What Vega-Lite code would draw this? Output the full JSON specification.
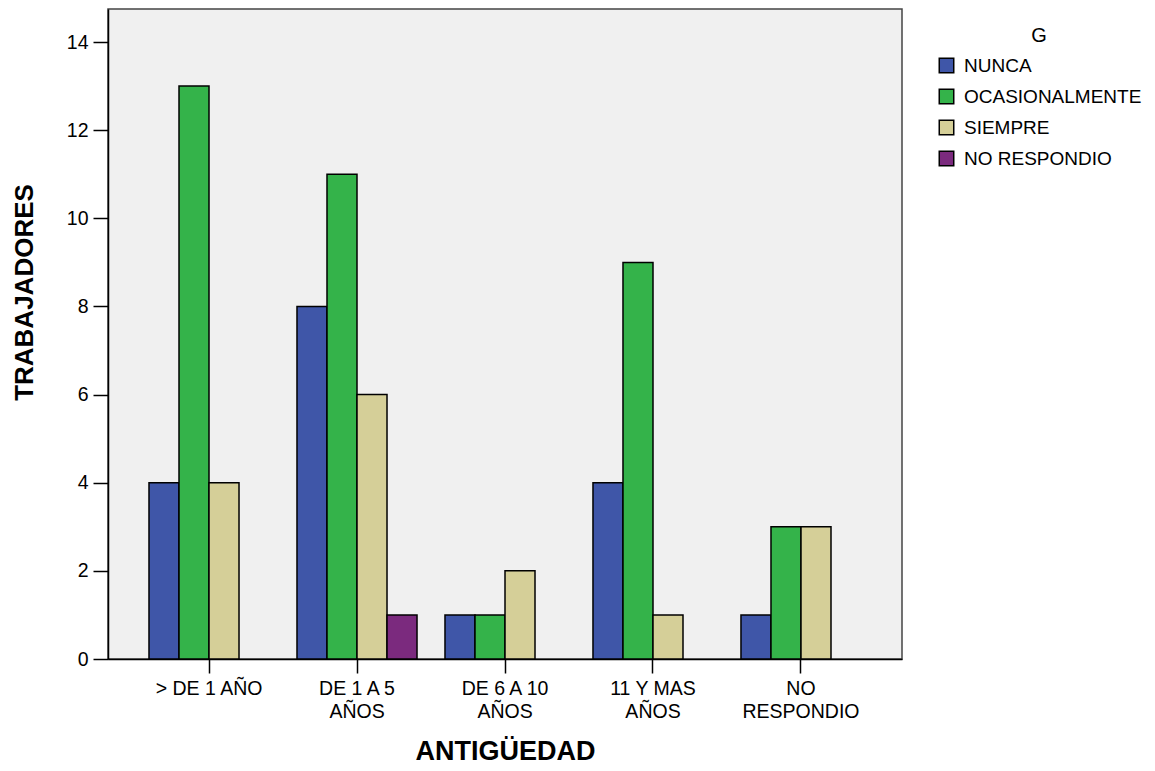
{
  "$schema": "https://vega.github.io/schema/vega-lite/v6.json",
  "width": 794,
  "height": 650,
  "autosize": "none",
  "padding": {"left": 108, "top": 9, "right": 253, "bottom": 112},
  "background": "white",
  "config": {
    "font": "Liberation Sans",
    "view": {"fill": "#F0F0F0", "stroke": "#444444", "strokeWidth": 1.5},
    "axis": {"grid": false, "labelFontSize": 19.5, "labelColor": "#000000", "tickColor": "#000000", "domainColor": "#000000", "tickWidth": 1.5, "domainWidth": 1.5, "titleFontWeight": "bold", "titleColor": "#000000"}
  },
  "data": {
    "values": [
      {"antig": "> DE 1 AÑO", "g": "NUNCA", "n": 4},
      {"antig": "> DE 1 AÑO", "g": "OCASIONALMENTE", "n": 13},
      {"antig": "> DE 1 AÑO", "g": "SIEMPRE", "n": 4},
      {"antig": "DE 1  A 5|AÑOS", "g": "NUNCA", "n": 8},
      {"antig": "DE 1  A 5|AÑOS", "g": "OCASIONALMENTE", "n": 11},
      {"antig": "DE 1  A 5|AÑOS", "g": "SIEMPRE", "n": 6},
      {"antig": "DE 1  A 5|AÑOS", "g": "NO RESPONDIO", "n": 1},
      {"antig": "DE 6 A 10|AÑOS", "g": "NUNCA", "n": 1},
      {"antig": "DE 6 A 10|AÑOS", "g": "OCASIONALMENTE", "n": 1},
      {"antig": "DE 6 A 10|AÑOS", "g": "SIEMPRE", "n": 2},
      {"antig": "11 Y MAS|AÑOS", "g": "NUNCA", "n": 4},
      {"antig": "11 Y MAS|AÑOS", "g": "OCASIONALMENTE", "n": 9},
      {"antig": "11 Y MAS|AÑOS", "g": "SIEMPRE", "n": 1},
      {"antig": "NO|RESPONDIO", "g": "NUNCA", "n": 1},
      {"antig": "NO|RESPONDIO", "g": "OCASIONALMENTE", "n": 3},
      {"antig": "NO|RESPONDIO", "g": "SIEMPRE", "n": 3}
    ]
  },
  "mark": {"type": "bar", "stroke": "#000000", "strokeWidth": 1.5},
  "encoding": {
    "x": {
      "field": "antig", "type": "nominal",
      "sort": ["> DE 1 AÑO", "DE 1  A 5|AÑOS", "DE 6 A 10|AÑOS", "11 Y MAS|AÑOS", "NO|RESPONDIO"],
      "scale": {"paddingInner": 0.189, "paddingOuter": 0.277},
      "axis": {"title": "ANTIGÜEDAD", "titleFontSize": 27, "labelAngle": 0, "tickSize": 14, "labelPadding": 6, "labelExpr": "split(datum.label, '|')", "labelLineHeight": 23, "titlePadding": 18}
    },
    "xOffset": {
      "field": "g", "type": "nominal",
      "sort": ["NUNCA", "OCASIONALMENTE", "SIEMPRE", "NO RESPONDIO"],
      "scale": {"domain": ["NUNCA", "OCASIONALMENTE", "SIEMPRE", "NO RESPONDIO"], "paddingInner": 0, "paddingOuter": 0}
    },
    "y": {
      "field": "n", "type": "quantitative",
      "scale": {"domain": [0, 14.75], "nice": false},
      "axis": {"title": "TRABAJADORES", "titleFontSize": 26, "titleY": 283, "values": [0, 2, 4, 6, 8, 10, 12, 14], "tickSize": 15, "labelPadding": 5, "titlePadding": 29}
    },
    "color": {
      "field": "g", "type": "nominal",
      "sort": ["NUNCA", "OCASIONALMENTE", "SIEMPRE", "NO RESPONDIO"],
      "scale": {"domain": ["NUNCA", "OCASIONALMENTE", "SIEMPRE", "NO RESPONDIO"], "range": ["#3F56A8", "#34B34A", "#D5CF98", "#7B2A7E"]},
      "legend": {
        "title": "G", "orient": "none", "legendX": 829, "legendY": 17,
        "titleFontSize": 20, "titleFontWeight": "normal", "titleColor": "#000000", "titleAnchor": "middle",
        "labelFontSize": 19, "labelLimit": 400, "labelColor": "#000000", "symbolType": "square", "symbolSize": 210,
        "symbolStrokeColor": "#000000", "symbolStrokeWidth": 1.5, "rowPadding": 10, "labelOffset": 8, "titlePadding": 10
      }
    }
  }
}
